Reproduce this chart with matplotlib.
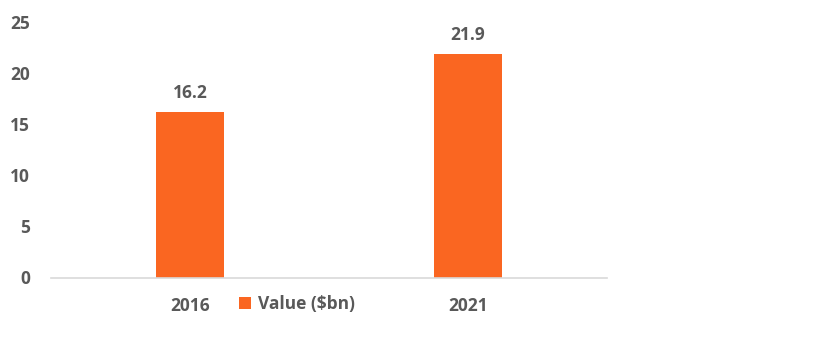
import numpy as np
import matplotlib.pyplot as plt

plt.rcParams['font.family'] = ['Open Sans', 'DejaVu Sans']
plt.rcParams['font.weight'] = 'bold'

# data
years = ['2016', '2021']
values = [16.2, 21.9]
series_name = 'Value ($bn)'

bar_color = '#FA6621'
text_color = '#595959'
fs = 12.5

fig = plt.figure(figsize=(8.2, 3.52), dpi=100)
ax = fig.add_axes([51 / 820, 1 - 277.5 / 352, (607 - 51) / 820, (277.5 - 22) / 352])

x = np.arange(len(years))
bars = ax.bar(x, values, width=0.247, color=bar_color, label=series_name, zorder=2)

for xi, v in zip(x, values):
    ax.annotate(f'{v:.1f}', (xi, v), xytext=(0, 7), textcoords='offset points',
                ha='center', va='bottom', fontsize=fs, fontweight='bold',
                color=text_color, annotation_clip=False)

ax.set_xlim(-0.5, 1.5)
ax.set_ylim(0, 25)
ax.set_yticks(np.arange(0, 26, 5))
ax.set_xticks(x)
ax.set_xticklabels(years)

for s in ['top', 'right', 'left']:
    ax.spines[s].set_visible(False)
ax.spines['bottom'].set_color('#d9d9d9')
ax.spines['bottom'].set_linewidth(1.2)

ax.tick_params(axis='both', length=0, labelsize=fs, labelcolor=text_color)
ax.tick_params(axis='y', pad=15)
ax.tick_params(axis='x', pad=14)
for lbl in ax.get_xticklabels() + ax.get_yticklabels():
    lbl.set_fontweight('bold')

leg = fig.legend(handles=[bars], labels=[series_name], loc='center',
                 bbox_to_anchor=(297 / 820, 1 - 304 / 352), frameon=False,
                 handlelength=0.7, handleheight=0.7, handletextpad=0.4,
                 prop={'size': fs, 'weight': 'bold'})
for t in leg.get_texts():
    t.set_color(text_color)

plt.savefig('out.png', dpi=100)
